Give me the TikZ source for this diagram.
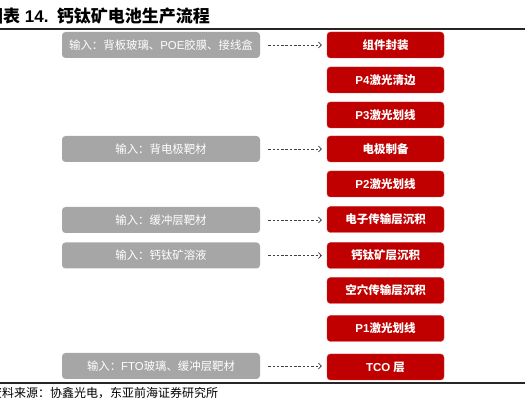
\documentclass[tikz,border=0pt]{standalone}
\usepackage{fontspec}
\setmainfont{Liberation Sans}
\newfontfamily\cjk{Noto Sans CJK SC}
\usetikzlibrary{arrows.meta}
\definecolor{myred}{HTML}{C00000}
\definecolor{mygray}{HTML}{A6A6A6}
\definecolor{arrowgray}{HTML}{404040}
\tikzset{
  redbox/.style={fill=myred, draw=myred!80!white, line width=0.4pt, rounded corners=3.5pt, minimum width=117pt, minimum height=26pt, text=white, inner sep=0pt, font=\fontsize{11.5}{13}\selectfont\bfseries},
  graybox/.style={fill=mygray, rounded corners=3.5pt, minimum width=198pt, minimum height=26pt, text=white, inner sep=0pt, font=\fontsize{11.4}{13}\selectfont},
  feed/.style={draw=arrowgray, line width=0.6pt, dash pattern=on 2.5pt off 1.8pt, -{Straight Barb[length=3pt,width=6pt]}, shorten <=8pt, shorten >=5pt},
}
\begin{document}
\begin{tikzpicture}[x=1pt,y=-1pt]
\useasboundingbox (0,0) rectangle (525,411);
% title
\node[anchor=base west, inner sep=0pt, font=\fontsize{17}{19}\selectfont\bfseries] (title) at (-14,23) {{\cjk 图表} 14.\hspace{2pt} {\cjk 钙钛矿电池生产流程}};
\draw[line width=2pt, black!85] (0,29) -- (525,29);
\draw[line width=1.6pt, black!85] (0,383) -- (525,383);
\node[anchor=base west, inner sep=0pt, font=\fontsize{12}{14}\selectfont] (src) at (-10,397.5) {\cjk 资料来源：协鑫光电，东亚前海证券研究所};

% red process boxes
\node[redbox] (r1) at (385.5,45) {\cjk 组件封装};
\node[redbox] (r2) at (385.5,80) {P4{\cjk 激光清边}};
\node[redbox] (r3) at (385.5,115) {P3{\cjk 激光划线}};
\node[redbox] (r4) at (385.5,149) {\cjk 电极制备};
\node[redbox] (r5) at (385.5,184) {P2{\cjk 激光划线}};
\node[redbox] (r6) at (385.5,219.5) {\cjk 电子传输层沉积};
\node[redbox] (r7) at (385.5,255.5) {\cjk 钙钛矿层沉积};
\node[redbox] (r8) at (385.5,290.5) {\cjk 空穴传输层沉积};
\node[redbox] (r9) at (385.5,328.5) {P1{\cjk 激光划线}};
\node[redbox] (r10) at (385.5,367) {TCO {\cjk 层}};

% gray input boxes
\node[graybox] (g1) at (161,45) {{\cjk 输入：背板玻璃、}POE{\cjk 胶膜、接线盒}};
\node[graybox] (g4) at (161,149) {\cjk 输入：背电极靶材};
\node[graybox] (g6) at (161,220) {\cjk 输入：缓冲层靶材};
\node[graybox] (g7) at (161,255.5) {\cjk 输入：钙钛矿溶液};
\node[graybox] (g10) at (161,366) {{\cjk 输入：}FTO{\cjk 玻璃、缓冲层靶材}};

% arrows
\draw[feed] (g1.east) -- (g1.east -| r1.west);
\draw[feed] (g4.east) -- (g4.east -| r4.west);
\draw[feed] (g6.east) -- (g6.east -| r6.west);
\draw[feed] (g7.east) -- (g7.east -| r7.west);
\draw[feed] (g10.east) -- (g10.east -| r10.west);
\end{tikzpicture}
\end{document}
